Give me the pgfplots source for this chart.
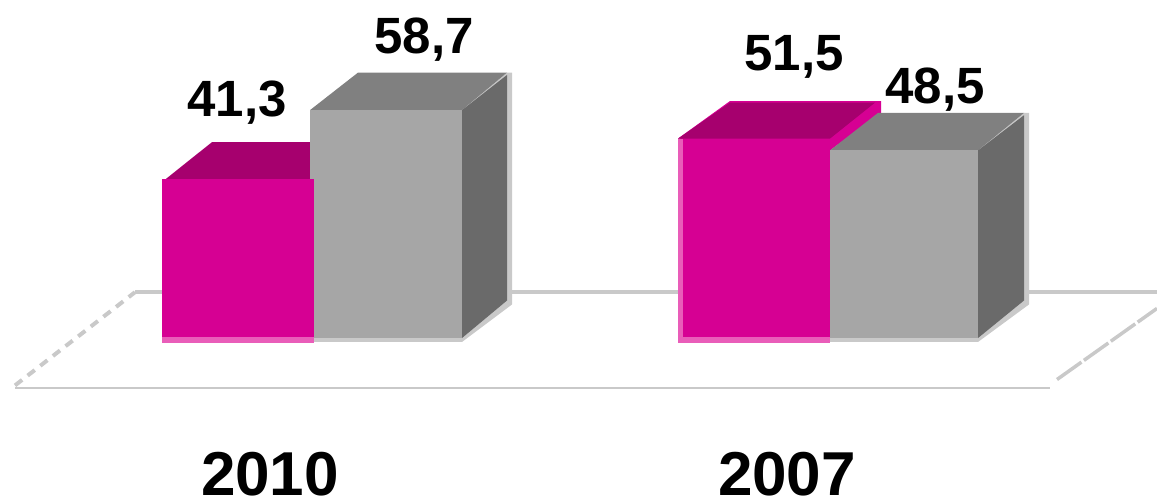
\documentclass[border=0pt]{standalone}
\usepackage{fontspec}
\setmainfont{Liberation Sans}
\usepackage{pgfplots}
\pgfplotsset{compat=1.18}
\definecolor{mg}{HTML}{D60093}
\definecolor{mgtop}{HTML}{A6006E}
\definecolor{mgedge}{HTML}{E95DB9}
\definecolor{gy}{HTML}{A6A6A6}
\definecolor{gytop}{HTML}{808080}
\definecolor{gyside}{HTML}{6A6A6A}
\definecolor{gyedge}{HTML}{C9C9C9}
\tikzset{
  lab/.style={font=\fontsize{51}{51}\selectfont\bfseries, text=black, anchor=center, inner sep=0pt},
  cat/.style={font=\fontsize{62}{62}\selectfont\bfseries, text=black, anchor=center, inner sep=0pt},
}
\begin{document}
\begin{tikzpicture}
\begin{axis}[
  scale only axis, width=1157pt, height=502pt,
  hide axis, xmin=0, xmax=1157, ymin=-40.51, ymax=86.58,
  clip=true,
  every axis plot/.append style={no markers},
]
\path (rel axis cs:0,0) rectangle (rel axis cs:1,1);
% floor
\addplot[draw=gyedge, line width=3.5pt] coordinates {(135,12.6) (1157,12.6)};
\addplot[draw=gyedge, line width=1.5pt] coordinates {(15,-11.6) (1050,-11.6)};
\addplot[draw=gyedge, line width=4pt, dash pattern=on 9pt off 7pt] coordinates {(15,-11.0) (135,12.6)};
\addplot[draw=gyedge, line width=3.5pt, dash pattern=on 30pt off 3pt] coordinates {(1057,-9.5) (1157,8.5)};
% bar group 2010
\addplot[draw=none, fill=mgtop] coordinates {(166,41.3) (212,50.6) (314,50.6) (314,41.3)};
% grey bar
\addplot[draw=none, fill=gyedge] coordinates {(310,0) (462,0) (512,9.5) (512,68.2) (507,68.2) (462,58.7) (310,58.7)};
\addplot[draw=none, fill=gytop] coordinates {(310,58.7) (462,58.7) (507,68.2) (358,68.2)};
\addplot[draw=none, fill=gyside] coordinates {(462,1) (462,58.7) (507,67.6) (507,10.5)};
\addplot[draw=none, fill=gy] coordinates {(310,1) (462,1) (462,58.7) (310,58.7)};
% magenta bar
\addplot[draw=none, fill=mgedge] coordinates {(162,-0.3) (314,-0.3) (314,41.3) (162,41.3)};
\addplot[draw=none, fill=mg] coordinates {(162,1.2) (314,1.2) (314,41.3) (162,41.3)};
% bar group 2007
\addplot[draw=none, fill=mg] coordinates {(678,51.5) (730,61) (881,61) (881,58) (830,48.5)};
\addplot[draw=none, fill=mgtop] coordinates {(678,51.5) (830,51.5) (875,60.6) (730,60.6)};
\addplot[draw=none, fill=gyedge] coordinates {(830,0) (978,0) (1029,9.5) (1029,58) (1024,58) (978,48.5) (830,48.5)};
\addplot[draw=none, fill=gytop] coordinates {(830,48.5) (978,48.5) (1024,58) (878,58)};
\addplot[draw=none, fill=gyside] coordinates {(978,1) (978,48.5) (1024,57.4) (1024,10.5)};
\addplot[draw=none, fill=gy] coordinates {(830,1) (978,1) (978,48.5) (830,48.5)};
\addplot[draw=none, fill=mgedge] coordinates {(678,-0.3) (830,-0.3) (830,51.5) (678,51.5)};
\addplot[draw=none, fill=mg] coordinates {(683,1.2) (830,1.2) (830,51.5) (683,51.5)};
% labels
\node[lab] at (axis cs:237,60.6) {41,3};
\node[lab] at (axis cs:424,76.6) {58,7};
\node[lab] at (axis cs:794,72.2) {51,5};
\node[lab] at (axis cs:935,64) {48,5};
\node[cat] at (axis cs:270,-33.4) {2010};
\node[cat] at (axis cs:787,-33.4) {2007};
\end{axis}
\end{tikzpicture}
\end{document}
